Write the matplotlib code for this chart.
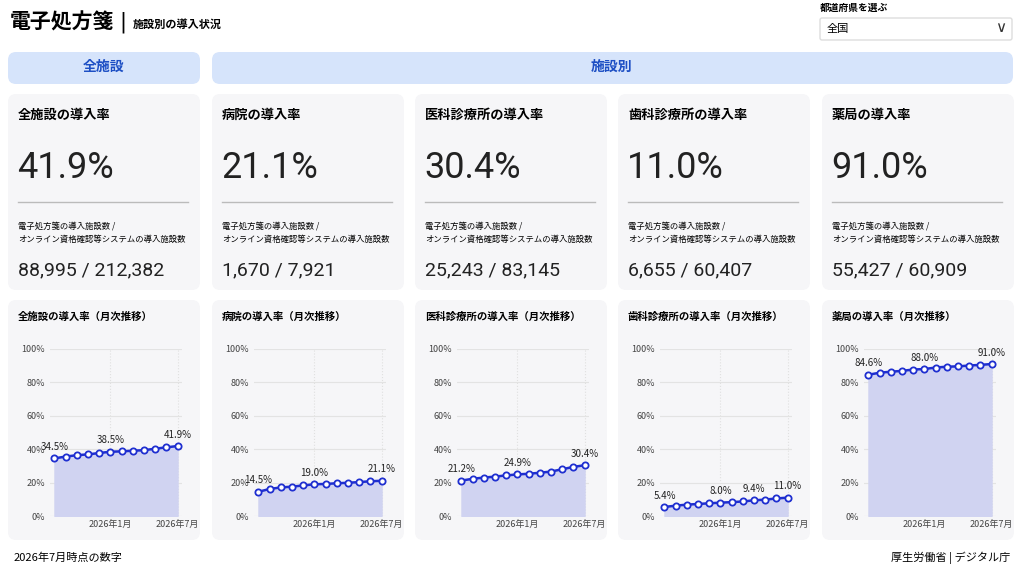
import matplotlib
matplotlib.use("Agg")
import matplotlib.pyplot as plt
from matplotlib.patches import FancyBboxPatch
from matplotlib.ticker import FuncFormatter

plt.rcParams["font.family"] = ["Noto Sans CJK JP", "DejaVu Sans"]

W, H = 1024, 569

# data
facilities = ["全施設", "病院", "医科診療所", "歯科診療所", "薬局"]
rates = ["41.9%", "21.1%", "30.4%", "11.0%", "91.0%"]
counts = ["88,995 / 212,382", "1,670 / 7,921", "25,243 / 83,145",
          "6,655 / 60,407", "55,427 / 60,909"]
months = list(range(12))  # 2025-08 .. 2026-07
month_ticks = [5, 11]
month_labels = ["2026年1月", "2026年7月"]
series = [
    [34.5, 35.6, 36.4, 36.9, 37.7, 38.5, 38.7, 39.1, 39.4, 40.3, 41.1, 41.9],
    [14.5, 16.2, 17.1, 17.6, 18.3, 19.0, 19.2, 19.6, 19.9, 20.3, 20.8, 21.1],
    [21.2, 22.3, 23.0, 23.6, 24.3, 24.9, 25.3, 25.9, 26.6, 28.0, 29.4, 30.4],
    [5.4, 6.2, 6.8, 7.2, 7.6, 8.0, 8.3, 8.7, 9.4, 9.8, 10.5, 11.0],
    [84.6, 85.8, 86.4, 86.9, 87.7, 88.0, 88.9, 89.4, 89.6, 90.1, 90.5, 91.0],
]
label_idx = [[0, 5, 11], [0, 5, 11], [0, 5, 11], [0, 5, 8, 11], [0, 5, 11]]

fig = plt.figure(figsize=(W / 100, H / 100), dpi=100)
fig.patch.set_facecolor("white")


def box(x0, y0, x1, y1, color, r=8):
    p = FancyBboxPatch((x0 / W, 1 - y1 / H), (x1 - x0) / W, (y1 - y0) / H,
                       boxstyle=f"round,pad=0,rounding_size={r / W}",
                       transform=fig.transFigure, fc=color, ec="none",
                       mutation_aspect=W / H, zorder=0)
    fig.patches.append(p)


def txt(x, y, s, **kw):
    fig.text(x / W, 1 - y / H, s, **kw)


# header
txt(10, 22, "電子処方箋", fontsize=15, fontweight="bold", va="center")
txt(119, 22, "|", fontsize=15, va="center", family="DejaVu Sans")
txt(133, 24, "施設別の導入状況", fontsize=8, fontweight="bold", va="center")
txt(820, 8, "都道府県を選ぶ", fontsize=7, fontweight="bold", va="center")
box(820, 18, 1012, 40, "white", r=2)
fig.patches[-1].set_edgecolor("#dddddd")
txt(827, 29, "全国", fontsize=8, va="center")
txt(1001, 28, "∨", fontsize=11, va="center", ha="center", color="#333333",
    family="DejaVu Sans")

# section headers
box(8, 52, 200, 84, "#d6e4fb")
box(212, 52, 1013, 84, "#d6e4fb")
txt(104, 67, "全施設", fontsize=10, fontweight="bold", color="#1d4fc4",
    ha="center", va="center")
txt(612, 67, "施設別", fontsize=10, fontweight="bold", color="#1d4fc4",
    ha="center", va="center")

lefts = [8, 212, 415, 618, 822]
cw = 192
for i, x0 in enumerate(lefts):
    # KPI card
    box(x0, 94, x0 + cw, 290, "#f6f6f8")
    txt(x0 + 10, 115, f"{facilities[i]}の導入率", fontsize=9.5,
        fontweight="bold", va="center")
    txt(x0 + 9, 168, rates[i], fontsize=26, va="center",
        family="Roboto", color="#222222")
    fig.add_artist(plt.Line2D([(x0 + 10) / W, (x0 + 180) / W],
                              [1 - 202 / H, 1 - 202 / H], color="#bbbbbb", lw=1))
    txt(x0 + 10, 226, "電子処方箋の導入施設数 /", fontsize=6, va="center")
    txt(x0 + 10, 239, "オンライン資格確認等システムの導入施設数", fontsize=6,
        va="center")
    txt(x0 + 10, 270, counts[i], fontsize=14, va="center", color="#222222",
        family="Roboto")

    # chart card
    box(x0, 300, x0 + cw, 540, "#f6f6f8")
    txt(x0 + 10, 317, f"{facilities[i]}の導入率（月次推移）", fontsize=7.5,
        fontweight="bold", va="center")
    ax = fig.add_axes([(x0 + 42) / W, 1 - 516 / H, 132 / W, 167 / H])
    ax.set_zorder(2)
    ax.set_facecolor("none")
    y = series[i]
    ax.fill_between(months, 0, y, color="#d0d3f1")
    ax.plot(months, y, color="#1f2fd0", lw=1.8, marker="o", ms=4.5,
            mfc="white", mec="#1f2fd0", mew=1.3, zorder=3)
    for j in label_idx[i]:
        ax.annotate(f"{y[j]:.1f}%", (months[j], y[j]), xytext=(0, 6),
                    textcoords="offset points", ha="center", fontsize=7,
                    color="#222222")
    ax.set_ylim(0, 100)
    ax.set_xlim(-0.4, 11.4)
    ax.set_yticks(range(0, 101, 20))
    ax.yaxis.set_major_formatter(FuncFormatter(lambda v, p: f"{v:.0f}%"))
    ax.set_xticks(month_ticks)
    ax.set_xticklabels(month_labels)
    ax.tick_params(length=0, labelsize=6.5, colors="#444444")
    ax.tick_params(axis="x", pad=3)
    ax.grid(axis="y", color="#e3e3e3", lw=0.8)
    ax.grid(axis="x", color="#e0e0e0", lw=0.8, ls=":")
    ax.set_axisbelow(True)
    for s in ax.spines.values():
        s.set_visible(False)

txt(14, 558, "2026年7月時点の数字", fontsize=8, va="center")
txt(1010, 558, "厚生労働省 | デジタル庁", fontsize=8, va="center", ha="right")

fig.savefig("out.png", dpi=100)
